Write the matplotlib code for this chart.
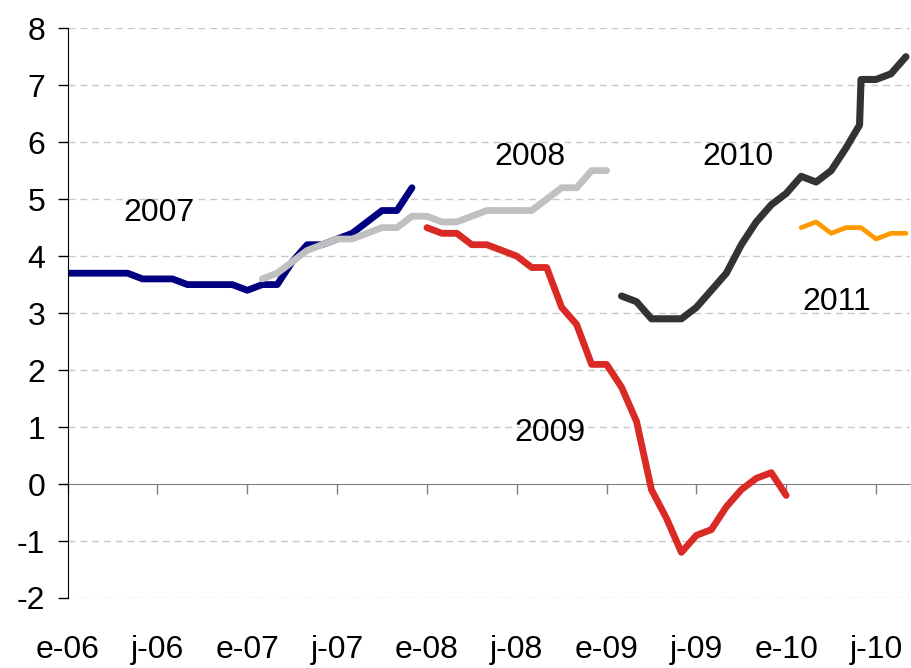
import matplotlib.pyplot as plt

plt.rcParams['font.family'] = ['Liberation Sans', 'DejaVu Sans']
plt.rcParams['axes.unicode_minus'] = False

tick_months = [0, 6, 12, 18, 24, 30, 36, 42, 48, 54]
tick_labels = ['e-06', 'j-06', 'e-07', 'j-07', 'e-08', 'j-08', 'e-09', 'j-09', 'e-10', 'j-10']

# month index from e-06 = 0
m_2007 = list(range(0, 24))
v_2007 = [3.7, 3.7, 3.7, 3.7, 3.7, 3.6, 3.6, 3.6, 3.5, 3.5, 3.5, 3.5,
          3.4, 3.5, 3.5, 3.9, 4.2, 4.2, 4.3, 4.4, 4.6, 4.8, 4.8, 5.2]

m_2008 = list(range(13, 37))
v_2008 = [3.6, 3.7, 3.9, 4.1, 4.2, 4.3, 4.3, 4.4, 4.5, 4.5, 4.7, 4.7,
          4.6, 4.6, 4.7, 4.8, 4.8, 4.8, 4.8, 5.0, 5.2, 5.2, 5.5, 5.5]

m_2009 = list(range(24, 49))
v_2009 = [4.5, 4.4, 4.4, 4.2, 4.2, 4.1, 4.0, 3.8, 3.8, 3.1, 2.8, 2.1,
          2.1, 1.7, 1.1, -0.1, -0.6, -1.2, -0.9, -0.8, -0.4, -0.1, 0.1, 0.2, -0.2]

m_2010 = list(range(37, 53)) + [52.9, 53, 54, 55, 56]
v_2010 = [3.3, 3.2, 2.9, 2.9, 2.9, 3.1, 3.4, 3.7, 4.2, 4.6, 4.9, 5.1,
          5.4, 5.3, 5.5, 5.9, 6.3, 7.1, 7.1, 7.2, 7.5]

m_2011 = list(range(49, 57))
v_2011 = [4.5, 4.6, 4.4, 4.5, 4.5, 4.3, 4.4, 4.4]

fig = plt.figure(figsize=(9.12, 6.68), dpi=100)
ax = fig.add_axes([0.0742, 0.1048, 0.9236, 0.853])

kw = dict(solid_capstyle='round', solid_joinstyle='round')
ax.plot(m_2007, v_2007, color='#000080', lw=4.9, **kw)
ax.plot(m_2008, v_2008, color='#C0C0C0', lw=4.9, **kw)
ax.plot(m_2009, v_2009, color='#D92A25', lw=4.9, **kw)
ax.plot(m_2010, v_2010, color='#333333', lw=5.1, **kw)
ax.plot(m_2011, v_2011, color='#FF9900', lw=3.4, **kw)

fs = 23
ax.text(6.1, 4.61, '2007', fontsize=fs, ha='center', va='baseline')
ax.text(30.9, 5.6, '2008', fontsize=fs, ha='center', va='baseline')
ax.text(32.2, 0.75, '2009', fontsize=fs, ha='center', va='baseline')
ax.text(44.8, 5.6, '2010', fontsize=fs, ha='center', va='baseline')
ax.text(51.4, 3.06, '2011', fontsize=fs, ha='center', va='baseline')

ax.set_xlim(0, 56.27)
ax.set_ylim(-2, 8)
ax.set_yticks(range(-2, 9))
for v in range(-2, 9):
    if v != 0:
        ax.axhline(v, color='#C8C8C8', lw=1, dashes=(5, 3.5), zorder=0)

ax.spines['top'].set_visible(False)
ax.spines['right'].set_visible(False)
ax.spines['bottom'].set_visible(False)
ax.spines['left'].set_color('black')
ax.tick_params(axis='y', length=7.2, width=1, pad=9, labelsize=fs)

ax.set_xticks(tick_months, labels=tick_labels)
ax.tick_params(axis='x', length=0, pad=27, labelsize=fs)

# zero axis with tick marks
zero = ax.secondary_xaxis(0.2)
zero.set_xticks(tick_months, labels=[])
zero.spines['bottom'].set_color('#808080')
zero.tick_params(length=7.2, width=1, color='#808080')

fig.savefig('out.png', dpi=100)
